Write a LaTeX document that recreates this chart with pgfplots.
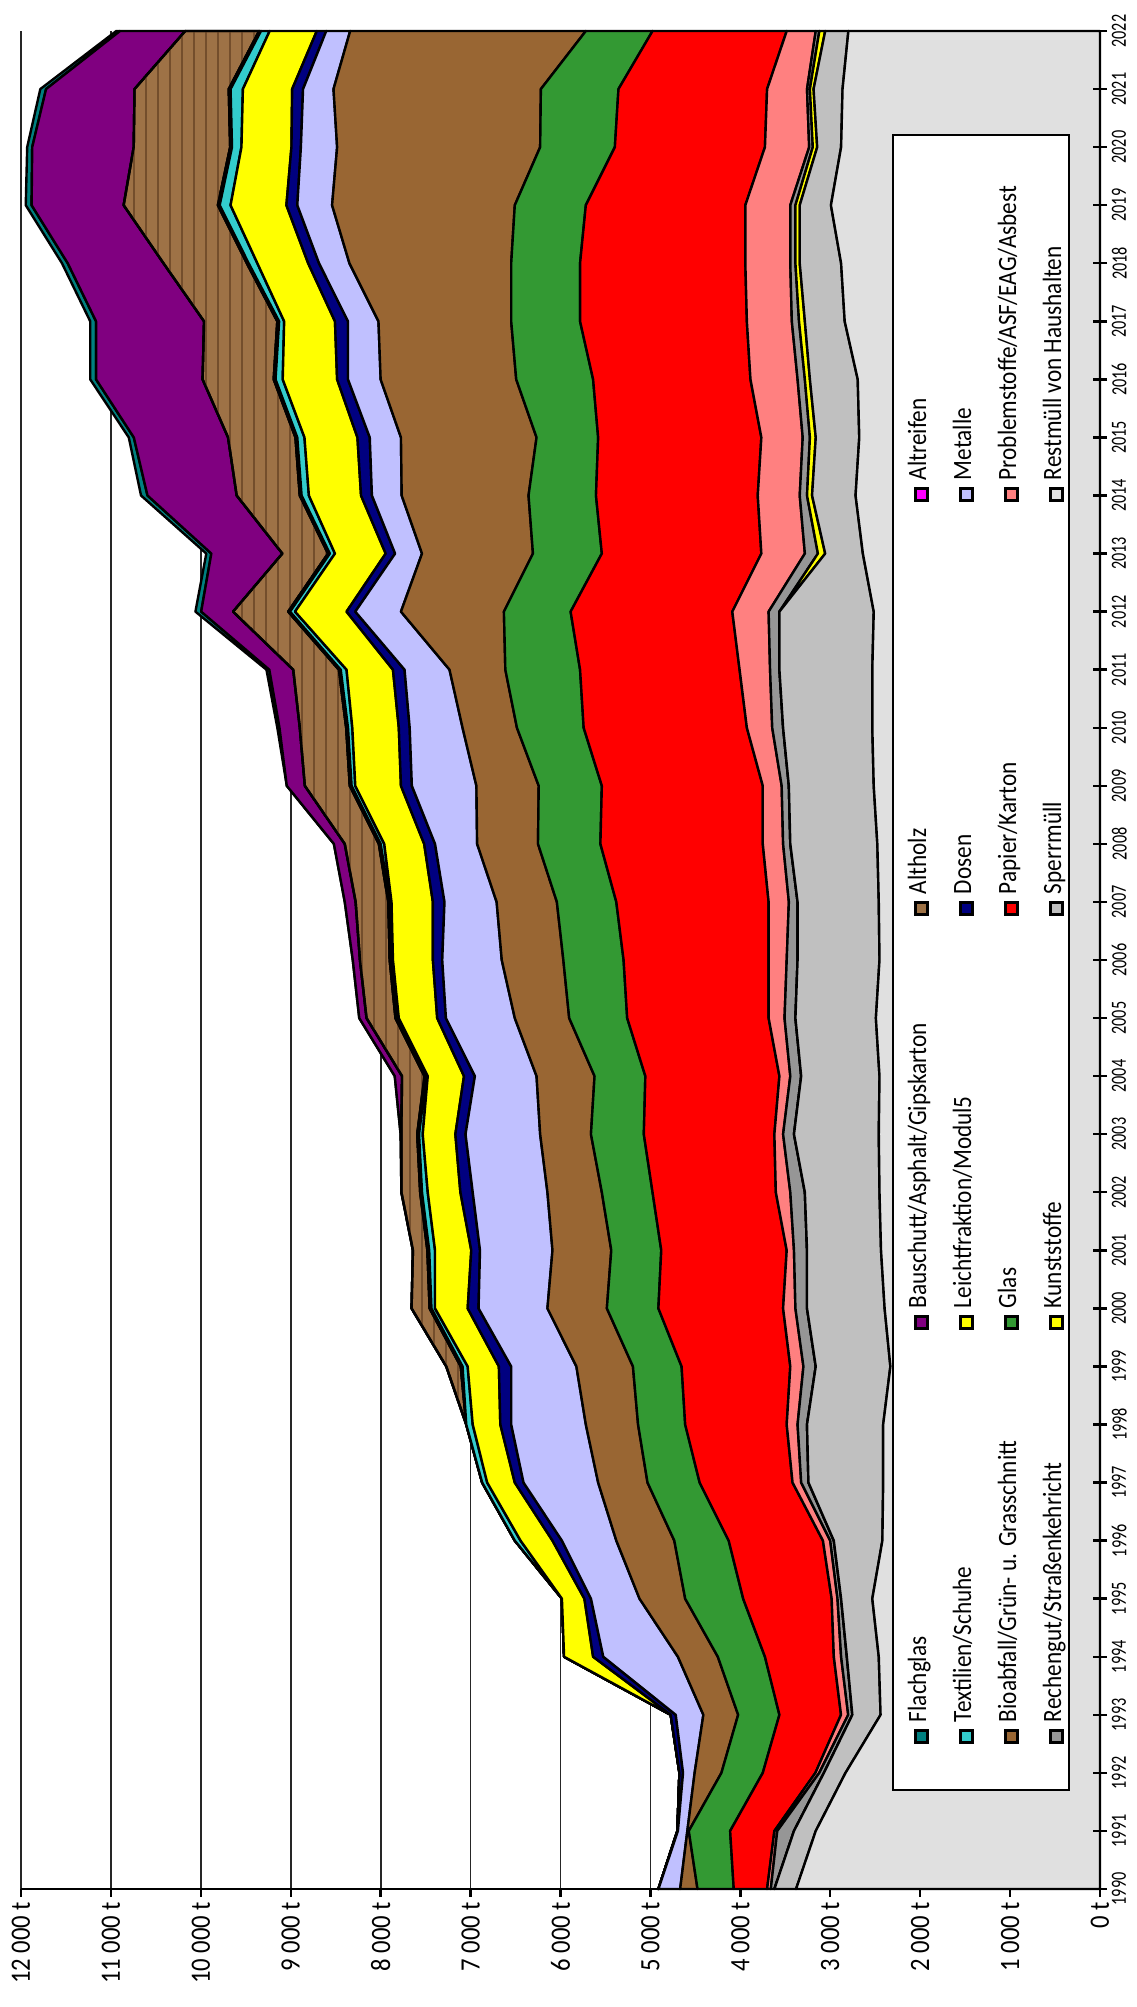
\documentclass[border=0pt]{standalone}
\usepackage{fontspec}
\setmainfont{Carlito}
\newfontfamily\valfont[FakeStretch=0.88]{Carlito}
\newfontfamily\yearfont[FakeStretch=0.75]{Carlito}
\usepackage{pgfplots}
\pgfplotsset{compat=1.18}
\usepackage{pgfplotstable}
\usetikzlibrary{patterns}

\definecolor{crest}{HTML}{E0E0E0}
\definecolor{csperr}{HTML}{C0C0C0}
\definecolor{ckunst}{HTML}{FFFF00}
\definecolor{crechen}{HTML}{969696}
\definecolor{cprob}{HTML}{FF8080}
\definecolor{cpapier}{HTML}{FF0000}
\definecolor{cglas}{HTML}{339933}
\definecolor{cbio}{HTML}{996633}
\definecolor{cmetall}{HTML}{C0C0FF}
\definecolor{cdosen}{HTML}{000080}
\definecolor{cleicht}{HTML}{FFFF00}
\definecolor{ctextil}{HTML}{33CCCC}
\definecolor{creifen}{HTML}{FF00FF}
\definecolor{cholz}{HTML}{9E7246}
\definecolor{cholzdark}{HTML}{5E3A1E}
\definecolor{cbau}{HTML}{800080}
\definecolor{cflach}{HTML}{008080}

\pgfplotstableread{
year zero rest sperr kunst rechen prob papier glas bio metall dosen leicht textil reifen holz bau flach
1990 0 3380 241 0 40 41 371 403 193 242 0 0 0 0 0 0 0
1991 0 3161 242 0 186 32 492 460 16 105 6 0 0 0 0 0 0
1992 0 2830 240 0 52 43 585 460 298 129 40 0 0 0 0 0 0
1993 0 2440 314 0 46 80 685 459 387 307 56 0 0 0 0 0 0
1994 0 2460 355 0 64 81 766 524 444 830 113 323 0 0 0 0 0
1995 0 2532 347 0 40 65 984 645 508 540 73 250 0 0 0 0 0
1996 0 2420 540 0 40 81 1048 605 645 605 105 355 64 0 0 0 0
1997 0 2411 831 0 81 96 1033 580 549 830 97 307 56 0 0 0 0
1998 0 2411 847 0 105 121 1129 524 581 830 121 307 72 0 0 0 0
1999 0 2331 830 0 137 146 1209 541 629 725 137 347 57 20 161 0 0
2000 0 2395 863 0 129 137 1387 573 661 766 121 363 40 20 201 0 0
2001 0 2435 823 0 145 81 1395 556 654 806 97 403 65 20 161 0 0
2002 0 2452 830 0 162 161 1371 564 605 831 137 363 64 20 209 0 0
2003 0 2460 943 0 121 97 1452 588 565 830 113 363 41 20 177 8 0
2004 0 2452 871 0 121 121 1491 565 645 686 121 403 16 20 250 81 0
2005 0 2492 895 0 121 177 1573 645 605 766 97 427 17 20 322 81 0
2006 0 2452 911 0 121 201 1613 670 685 662 104 444 16 20 331 80 0
2007 0 2460 903 0 97 225 1694 661 670 580 129 460 16 20 363 121 0
2008 0 2476 968 0 80 226 1806 694 677 468 121 444 40 20 379 121 0
2009 0 2516 944 0 80 210 1790 702 693 718 121 508 41 20 500 201 0
2010 0 2532 992 0 121 282 1815 742 605 588 121 517 48 20 516 226 24
2011 0 2532 1033 0 104 339 1774 831 621 500 129 516 65 20 508 266 32
2012 0 2516 1049 0 120 404 1798 742 1145 508 97 573 56 20 613 355 64
2013 0 2637 419 81 145 484 1774 766 1234 299 105 564 57 20 508 790 56
2014 0 2718 484 56 81 467 1799 750 1411 331 121 580 81 20 702 992 72
2015 0 2677 484 65 80 460 1815 685 1508 347 137 589 80 20 750 1048 56
2016 0 2694 532 56 81 524 1750 855 1508 363 121 605 80 20 791 1185 65
2017 0 2839 443 65 80 500 1855 766 1476 339 145 565 56 20 815 1201 65
2018 0 2879 460 48 57 500 1838 766 1799 338 121 565 97 20 927 1065 64
2019 0 2992 347 48 57 500 1774 790 2032 387 121 621 121 20 1048 1024 65
2020 0 2879 266 49 40 492 1669 831 2258 403 105 556 105 20 1073 1129 56
2021 0 2863 322 41 32 444 1653 863 2306 339 121 548 137 20 1048 984 64
2022 0 2798 258 65 40 323 1492 742 2621 266 105 524 97 20 822 726 41
}\datatable

\newcommand{\lsq}[1]{{\setlength{\fboxsep}{0pt}\setlength{\fboxrule}{0.6pt}\fcolorbox{black}{#1}{\rule{0pt}{2.4pt}\rule{2.4pt}{0pt}}}}
\newcommand{\lent}[2]{\makebox[103.5pt][l]{\lsq{#1}\hspace{1.8pt}#2}}
\newcommand{\lrow}[1]{\hbox to 413.75pt{\hskip 11.6pt\raisebox{-1.8pt}[0pt][0pt]{#1}\hss}}

\begin{document}
\begin{tikzpicture}
% main data axis
\begin{axis}[
  scale only axis, width=269.75pt, height=464.5pt,
  xmin=0, xmax=12000, ymin=1990, ymax=2022,
  x dir=reverse,
  clip=false,
  scaled ticks=false,
  stack plots=x,
  axis line style={draw=none},
  xtick={0,1000,...,12000}, xticklabels={},
  ytick=\empty,
  major tick length=0pt,
  xmajorgrids,
  major grid style={black!85, line width=0.45pt},
  every axis plot/.append style={draw=black, line width=0.6pt, line join=round},
]
\addplot[draw=none] table[x=zero, y=year]{\datatable};
\addplot[fill=crest]   table[x=rest,  y=year]{\datatable} \closedcycle;
\addplot[fill=csperr]  table[x=sperr, y=year]{\datatable} \closedcycle;
\addplot[fill=ckunst]  table[x=kunst, y=year]{\datatable} \closedcycle;
\addplot[fill=crechen] table[x=rechen,y=year]{\datatable} \closedcycle;
\addplot[fill=cprob]   table[x=prob,  y=year]{\datatable} \closedcycle;
\addplot[fill=cpapier] table[x=papier,y=year]{\datatable} \closedcycle;
\addplot[fill=cglas]   table[x=glas,  y=year]{\datatable} \closedcycle;
\addplot[fill=cbio]    table[x=bio,   y=year]{\datatable} \closedcycle;
\addplot[fill=cmetall] table[x=metall,y=year]{\datatable} \closedcycle;
\addplot[fill=cdosen]  table[x=dosen, y=year]{\datatable} \closedcycle;
\addplot[fill=cleicht] table[x=leicht,y=year]{\datatable} \closedcycle;
\addplot[fill=ctextil] table[x=textil,y=year]{\datatable} \closedcycle;
\addplot[fill=creifen] table[x=reifen,y=year]{\datatable} \closedcycle;
\addplot[fill=cholz, postaction={pattern=vertical lines, pattern color=cholzdark!65!cholz}] table[x=holz, y=year]{\datatable} \closedcycle;
\addplot[fill=cbau]    table[x=bau,   y=year]{\datatable} \closedcycle;
\addplot[fill=cflach]  table[x=flach, y=year]{\datatable} \closedcycle;
\end{axis}

% value axis (bottom)
\begin{axis}[
  scale only axis, width=269.75pt, height=464.5pt,
  xmin=0, xmax=12000, ymin=1990, ymax=2022,
  x dir=reverse,
  scaled ticks=false,
  axis x line*=bottom, axis y line=none,
  axis line style={black, line width=0.6pt},
  xtick={0,1000,...,12000},
  xticklabels={0 t,1 000 t,2 000 t,3 000 t,4 000 t,5 000 t,6 000 t,7 000 t,8 000 t,9 000 t,10 000 t,11 000 t,12 000 t},
  tick align=outside, major tick length=2pt,
  xtick style={black, line width=0.6pt},
  xticklabel style={font=\valfont\fontsize{7}{8}\selectfont, rotate=90, anchor=east, inner sep=1pt},
]
\end{axis}

% year axis (right) and legend
\begin{axis}[
  scale only axis, width=269.75pt, height=464.5pt,
  xmin=0, xmax=1, ymin=1990, ymax=2022,
  scaled ticks=false,
  clip=false,
  axis y line*=right, axis x line=none,
  axis line style={black, line width=0.6pt},
  ytick={1990,1991,1992,1993,1994,1995,1996,1997,1998,1999,2000,2001,2002,2003,2004,2005,2006,2007,2008,2009,2010,2011,2012,2013,2014,2015,2016,2017,2018,2019,2020,2021,2022},
  yticklabels={1990,1991,1992,1993,1994,1995,1996,1997,1998,1999,2000,2001,2002,2003,2004,2005,2006,2007,2008,2009,2010,2011,2012,2013,2014,2015,2016,2017,2018,2019,2020,2021,2022},
  tick align=center, major tick length=3.5pt,
  ytick style={black, line width=0.6pt},
  yticklabel style={font=\yearfont\fontsize{5.4}{6}\selectfont, rotate=90, anchor=north, inner sep=1pt},
]
\node[rotate=90, draw=black, line width=0.4pt, fill=white, inner sep=0pt, anchor=south west,
      font=\valfont\fontsize{6.6}{7}\selectfont] at (axis cs:0.972,1991.69) {%
\vbox to 44pt{\offinterlineskip\kern6.5pt
\lrow{\lent{cflach}{Flachglas}\lent{cbau}{Bauschutt/Asphalt/Gipskarton}\lent{cholz}{Altholz}\lent{creifen}{Altreifen}}\kern11.25pt
\lrow{\lent{ctextil}{Textilien/Schuhe}\lent{cleicht}{Leichtfraktion/Modul5}\lent{cdosen}{Dosen}\lent{cmetall}{Metalle}}\kern11.25pt
\lrow{\lent{cbio}{Bioabfall/Grün- u. Grasschnitt}\lent{cglas}{Glas}\lent{cpapier}{Papier/Karton}\lent{cprob}{Problemstoffe/ASF/EAG/Asbest}}\kern11.25pt
\lrow{\lent{crechen}{Rechengut/Straßenkehricht}\lent{ckunst}{Kunststoffe}\lent{csperr}{Sperrmüll}\lent{crest}{Restmüll von Haushalten}}\vss}};
\end{axis}

\pgfresetboundingbox
\path[use as bounding box] (-5.25pt,-29.5pt) rectangle (279pt,472.25pt);
\end{tikzpicture}
\end{document}
